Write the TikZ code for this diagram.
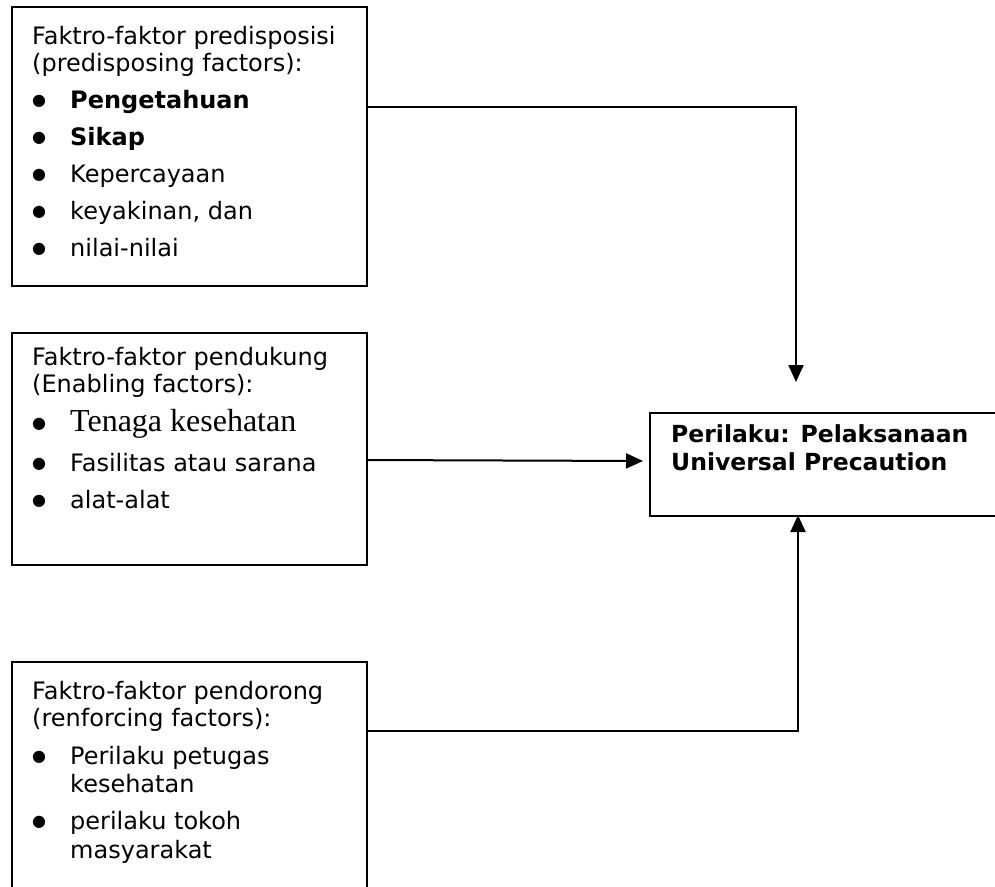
\documentclass[tikz,border=0pt]{standalone}
\usepackage{fontspec}
\setmainfont{DejaVu Sans}
\newfontfamily\timesfont{Liberation Serif}
\usetikzlibrary{arrows.meta,positioning}
\newcommand{\bul}{\makebox[38pt][l]{\raisebox{3pt}{\fontsize{16}{16}\selectfont ●}}}
\newcommand{\cont}{\hspace*{38pt}}

\begin{document}
\begin{tikzpicture}[x=1pt,y=-1pt,
    font=\fontsize{24}{26.5}\selectfont,
    factbox/.style={draw,line width=2pt,anchor=north west,inner sep=0pt,minimum width=355pt},
    facttext/.style={anchor=base west,align=left,inner sep=0pt},
    arr/.style={-{Triangle[length=17pt,width=15pt]},line width=2pt},
  ]
  \useasboundingbox (0,0) rectangle (995,886);
  \clip (0,0) rectangle (995,886);

  \node[factbox,minimum height=279pt] (predbox) at (11,6) {};
  \node[factbox,minimum height=232pt] (enabbox) at (11,332) {};
  \node[factbox,minimum height=260pt] (reinbox) at (11,661) {};
  \node[factbox,minimum width=361pt,minimum height=103pt] (actbox) at (649,412) {};

  % anchor = baseline of the last line
  \node[facttext] (predtext) at (32,256) {Faktro-faktor predisposisi\\
    (predisposing factors):\\[10.5pt]
    \bul\textbf{Pengetahuan}\\[10.5pt]
    \bul\textbf{Sikap}\\[10.5pt]
    \bul Kepercayaan\\[10.5pt]
    \bul keyakinan, dan\\[10.5pt]
    \bul nilai-nilai};
  \node[facttext] (enabtext) at (32,508) {Faktro-faktor pendukung\\
    (Enabling factors):\\[10.5pt]
    \bul{\timesfont\fontsize{32}{26.5}\selectfont Tenaga kesehatan}\\[13.5pt]
    \bul Fasilitas atau sarana\\[10.5pt]
    \bul alat-alat};
  \node[facttext] (reintext) at (32,858) {Faktro-faktor pendorong\\
    (renforcing factors):\\[11.5pt]
    \bul Perilaku petugas\\[2pt]
    \cont kesehatan\\[10.5pt]
    \bul perilaku tokoh\\[2pt]
    \cont masyarakat};
  \node[facttext,font=\fontsize{23.5}{28}\selectfont\bfseries] (acttext) at (671,470)
    {Perilaku: Pelaksanaan\\Universal Precaution};

  \coordinate (predout) at (366,107);
  \coordinate (predtip) at (796,382);
  \coordinate (enabout) at (366,460);
  \coordinate (enabtip) at (643,461);
  \coordinate (reinout) at (367,731);
  \coordinate (reintip) at (798,515);

  \draw[arr] (predout) -| (predtip);
  \draw[arr] (enabout) -- (enabtip);
  \draw[arr] (reinout) -| (reintip);
\end{tikzpicture}
\end{document}
